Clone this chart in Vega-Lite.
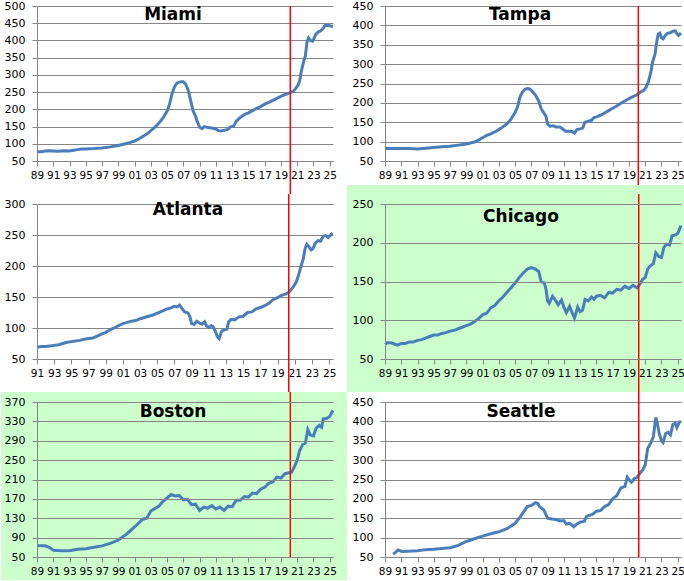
{
  "$schema": "https://vega.github.io/schema/vega-lite/v6.json",
  "padding": 0,
  "background": "white",
  "columns": 2,
  "bounds": "flush",
  "spacing": {"row": 43, "column": 52},
  "datasets": {
    "homes": [
      {"c":"Miami","t":1989.0,"v":77},{"c":"Miami","t":1989.5,"v":77},{"c":"Miami","t":1990.0,"v":79},{"c":"Miami","t":1990.5,"v":80},{"c":"Miami","t":1991.0,"v":79},{"c":"Miami","t":1991.5,"v":78},{"c":"Miami","t":1992.0,"v":79},{"c":"Miami","t":1992.5,"v":80},{"c":"Miami","t":1993.0,"v":79},{"c":"Miami","t":1993.5,"v":81},{"c":"Miami","t":1994.0,"v":83},{"c":"Miami","t":1994.5,"v":85},{"c":"Miami","t":1995.0,"v":85},{"c":"Miami","t":1996.0,"v":86},{"c":"Miami","t":1997.0,"v":88},{"c":"Miami","t":1998.0,"v":91},{"c":"Miami","t":1999.0,"v":95},{"c":"Miami","t":1999.5,"v":98},{"c":"Miami","t":2000.0,"v":101},{"c":"Miami","t":2000.5,"v":104},{"c":"Miami","t":2001.0,"v":108},{"c":"Miami","t":2001.5,"v":114},{"c":"Miami","t":2002.0,"v":121},{"c":"Miami","t":2002.5,"v":128},{"c":"Miami","t":2003.0,"v":138},{"c":"Miami","t":2003.5,"v":148},{"c":"Miami","t":2004.0,"v":160},{"c":"Miami","t":2004.5,"v":175},{"c":"Miami","t":2005.0,"v":195},{"c":"Miami","t":2005.3,"v":215},{"c":"Miami","t":2005.6,"v":245},{"c":"Miami","t":2005.9,"v":265},{"c":"Miami","t":2006.2,"v":276},{"c":"Miami","t":2006.5,"v":279},{"c":"Miami","t":2006.8,"v":280},{"c":"Miami","t":2007.0,"v":280},{"c":"Miami","t":2007.3,"v":272},{"c":"Miami","t":2007.6,"v":255},{"c":"Miami","t":2007.9,"v":225},{"c":"Miami","t":2008.2,"v":195},{"c":"Miami","t":2008.5,"v":180},{"c":"Miami","t":2008.7,"v":165},{"c":"Miami","t":2009.0,"v":148},{"c":"Miami","t":2009.3,"v":144},{"c":"Miami","t":2009.6,"v":150},{"c":"Miami","t":2010.0,"v":147},{"c":"Miami","t":2010.5,"v":146},{"c":"Miami","t":2011.0,"v":143},{"c":"Miami","t":2011.3,"v":138},{"c":"Miami","t":2011.6,"v":137},{"c":"Miami","t":2012.0,"v":139},{"c":"Miami","t":2012.4,"v":141},{"c":"Miami","t":2012.8,"v":149},{"c":"Miami","t":2013.2,"v":152},{"c":"Miami","t":2013.5,"v":165},{"c":"Miami","t":2013.8,"v":172},{"c":"Miami","t":2014.2,"v":180},{"c":"Miami","t":2014.6,"v":186},{"c":"Miami","t":2015.0,"v":190},{"c":"Miami","t":2015.5,"v":196},{"c":"Miami","t":2016.0,"v":203},{"c":"Miami","t":2016.5,"v":208},{"c":"Miami","t":2017.0,"v":215},{"c":"Miami","t":2017.5,"v":220},{"c":"Miami","t":2018.0,"v":226},{"c":"Miami","t":2018.5,"v":232},{"c":"Miami","t":2019.0,"v":238},{"c":"Miami","t":2019.5,"v":243},{"c":"Miami","t":2020.0,"v":247},{"c":"Miami","t":2020.5,"v":252},{"c":"Miami","t":2020.8,"v":260},{"c":"Miami","t":2021.1,"v":270},{"c":"Miami","t":2021.3,"v":283},{"c":"Miami","t":2021.5,"v":310},{"c":"Miami","t":2021.8,"v":340},{"c":"Miami","t":2022.0,"v":355},{"c":"Miami","t":2022.2,"v":395},{"c":"Miami","t":2022.4,"v":407},{"c":"Miami","t":2022.6,"v":400},{"c":"Miami","t":2022.9,"v":398},{"c":"Miami","t":2023.1,"v":408},{"c":"Miami","t":2023.3,"v":418},{"c":"Miami","t":2023.6,"v":425},{"c":"Miami","t":2023.9,"v":428},{"c":"Miami","t":2024.2,"v":435},{"c":"Miami","t":2024.4,"v":443},{"c":"Miami","t":2024.7,"v":444},{"c":"Miami","t":2025.0,"v":443},{"c":"Miami","t":2025.2,"v":441},{"c":"Miami","t":2025.4,"v":442},

      {"c":"Tampa","t":1989.0,"v":82},{"c":"Tampa","t":1990.0,"v":82},{"c":"Tampa","t":1991.0,"v":82},{"c":"Tampa","t":1992.0,"v":82},{"c":"Tampa","t":1993.0,"v":81},{"c":"Tampa","t":1994.0,"v":83},{"c":"Tampa","t":1995.0,"v":85},{"c":"Tampa","t":1996.0,"v":87},{"c":"Tampa","t":1997.0,"v":88},{"c":"Tampa","t":1998.0,"v":91},{"c":"Tampa","t":1999.0,"v":94},{"c":"Tampa","t":2000.0,"v":99},{"c":"Tampa","t":2000.5,"v":104},{"c":"Tampa","t":2001.0,"v":110},{"c":"Tampa","t":2001.5,"v":116},{"c":"Tampa","t":2002.0,"v":120},{"c":"Tampa","t":2002.5,"v":125},{"c":"Tampa","t":2003.0,"v":131},{"c":"Tampa","t":2003.5,"v":138},{"c":"Tampa","t":2004.0,"v":146},{"c":"Tampa","t":2004.5,"v":158},{"c":"Tampa","t":2005.0,"v":175},{"c":"Tampa","t":2005.3,"v":190},{"c":"Tampa","t":2005.6,"v":215},{"c":"Tampa","t":2005.9,"v":228},{"c":"Tampa","t":2006.2,"v":235},{"c":"Tampa","t":2006.5,"v":237},{"c":"Tampa","t":2006.8,"v":236},{"c":"Tampa","t":2007.1,"v":230},{"c":"Tampa","t":2007.5,"v":220},{"c":"Tampa","t":2007.9,"v":205},{"c":"Tampa","t":2008.2,"v":185},{"c":"Tampa","t":2008.5,"v":175},{"c":"Tampa","t":2008.8,"v":165},{"c":"Tampa","t":2009.0,"v":145},{"c":"Tampa","t":2009.3,"v":140},{"c":"Tampa","t":2009.7,"v":141},{"c":"Tampa","t":2010.0,"v":138},{"c":"Tampa","t":2010.5,"v":138},{"c":"Tampa","t":2010.9,"v":132},{"c":"Tampa","t":2011.2,"v":127},{"c":"Tampa","t":2011.6,"v":127},{"c":"Tampa","t":2012.0,"v":126},{"c":"Tampa","t":2012.3,"v":122},{"c":"Tampa","t":2012.6,"v":131},{"c":"Tampa","t":2013.0,"v":133},{"c":"Tampa","t":2013.3,"v":135},{"c":"Tampa","t":2013.6,"v":150},{"c":"Tampa","t":2014.0,"v":153},{"c":"Tampa","t":2014.4,"v":155},{"c":"Tampa","t":2014.7,"v":162},{"c":"Tampa","t":2015.0,"v":164},{"c":"Tampa","t":2015.5,"v":168},{"c":"Tampa","t":2016.0,"v":174},{"c":"Tampa","t":2016.5,"v":180},{"c":"Tampa","t":2017.0,"v":186},{"c":"Tampa","t":2017.5,"v":192},{"c":"Tampa","t":2018.0,"v":199},{"c":"Tampa","t":2018.5,"v":205},{"c":"Tampa","t":2019.0,"v":211},{"c":"Tampa","t":2019.5,"v":216},{"c":"Tampa","t":2020.0,"v":221},{"c":"Tampa","t":2020.4,"v":228},{"c":"Tampa","t":2020.8,"v":232},{"c":"Tampa","t":2021.1,"v":240},{"c":"Tampa","t":2021.4,"v":255},{"c":"Tampa","t":2021.7,"v":280},{"c":"Tampa","t":2021.9,"v":305},{"c":"Tampa","t":2022.2,"v":325},{"c":"Tampa","t":2022.4,"v":355},{"c":"Tampa","t":2022.6,"v":378},{"c":"Tampa","t":2022.8,"v":380},{"c":"Tampa","t":2023.0,"v":368},{"c":"Tampa","t":2023.2,"v":365},{"c":"Tampa","t":2023.5,"v":375},{"c":"Tampa","t":2023.8,"v":380},{"c":"Tampa","t":2024.1,"v":381},{"c":"Tampa","t":2024.4,"v":385},{"c":"Tampa","t":2024.7,"v":386},{"c":"Tampa","t":2024.9,"v":378},{"c":"Tampa","t":2025.1,"v":374},{"c":"Tampa","t":2025.4,"v":380},

      {"c":"Atlanta","t":1991.0,"v":69},{"c":"Atlanta","t":1991.5,"v":70},{"c":"Atlanta","t":1992.0,"v":70},{"c":"Atlanta","t":1992.5,"v":71},{"c":"Atlanta","t":1993.0,"v":72},{"c":"Atlanta","t":1993.5,"v":73},{"c":"Atlanta","t":1994.0,"v":75},{"c":"Atlanta","t":1994.5,"v":77},{"c":"Atlanta","t":1995.0,"v":78},{"c":"Atlanta","t":1995.5,"v":79},{"c":"Atlanta","t":1996.0,"v":80},{"c":"Atlanta","t":1996.5,"v":82},{"c":"Atlanta","t":1997.0,"v":83},{"c":"Atlanta","t":1997.5,"v":84},{"c":"Atlanta","t":1998.0,"v":87},{"c":"Atlanta","t":1998.5,"v":90},{"c":"Atlanta","t":1999.0,"v":93},{"c":"Atlanta","t":1999.5,"v":97},{"c":"Atlanta","t":2000.0,"v":100},{"c":"Atlanta","t":2000.5,"v":104},{"c":"Atlanta","t":2001.0,"v":107},{"c":"Atlanta","t":2001.5,"v":109},{"c":"Atlanta","t":2002.0,"v":111},{"c":"Atlanta","t":2002.5,"v":112},{"c":"Atlanta","t":2003.0,"v":115},{"c":"Atlanta","t":2003.5,"v":117},{"c":"Atlanta","t":2004.0,"v":119},{"c":"Atlanta","t":2004.5,"v":121},{"c":"Atlanta","t":2005.0,"v":124},{"c":"Atlanta","t":2005.5,"v":127},{"c":"Atlanta","t":2006.0,"v":130},{"c":"Atlanta","t":2006.5,"v":132},{"c":"Atlanta","t":2007.0,"v":135},{"c":"Atlanta","t":2007.3,"v":134},{"c":"Atlanta","t":2007.6,"v":137},{"c":"Atlanta","t":2007.9,"v":131},{"c":"Atlanta","t":2008.2,"v":126},{"c":"Atlanta","t":2008.6,"v":124},{"c":"Atlanta","t":2008.8,"v":118},{"c":"Atlanta","t":2009.0,"v":107},{"c":"Atlanta","t":2009.3,"v":106},{"c":"Atlanta","t":2009.6,"v":111},{"c":"Atlanta","t":2009.9,"v":108},{"c":"Atlanta","t":2010.2,"v":106},{"c":"Atlanta","t":2010.5,"v":110},{"c":"Atlanta","t":2010.7,"v":104},{"c":"Atlanta","t":2011.0,"v":101},{"c":"Atlanta","t":2011.3,"v":104},{"c":"Atlanta","t":2011.5,"v":102},{"c":"Atlanta","t":2011.8,"v":93},{"c":"Atlanta","t":2012.0,"v":86},{"c":"Atlanta","t":2012.2,"v":83},{"c":"Atlanta","t":2012.5,"v":95},{"c":"Atlanta","t":2012.8,"v":97},{"c":"Atlanta","t":2013.1,"v":98},{"c":"Atlanta","t":2013.3,"v":110},{"c":"Atlanta","t":2013.6,"v":114},{"c":"Atlanta","t":2014.0,"v":113},{"c":"Atlanta","t":2014.5,"v":118},{"c":"Atlanta","t":2015.0,"v":119},{"c":"Atlanta","t":2015.5,"v":125},{"c":"Atlanta","t":2016.0,"v":126},{"c":"Atlanta","t":2016.5,"v":131},{"c":"Atlanta","t":2017.0,"v":133},{"c":"Atlanta","t":2017.5,"v":136},{"c":"Atlanta","t":2018.0,"v":140},{"c":"Atlanta","t":2018.5,"v":146},{"c":"Atlanta","t":2019.0,"v":149},{"c":"Atlanta","t":2019.5,"v":153},{"c":"Atlanta","t":2020.0,"v":155},{"c":"Atlanta","t":2020.4,"v":159},{"c":"Atlanta","t":2020.8,"v":166},{"c":"Atlanta","t":2021.2,"v":175},{"c":"Atlanta","t":2021.5,"v":188},{"c":"Atlanta","t":2021.8,"v":203},{"c":"Atlanta","t":2022.0,"v":212},{"c":"Atlanta","t":2022.2,"v":228},{"c":"Atlanta","t":2022.4,"v":235},{"c":"Atlanta","t":2022.6,"v":232},{"c":"Atlanta","t":2022.9,"v":226},{"c":"Atlanta","t":2023.1,"v":228},{"c":"Atlanta","t":2023.4,"v":237},{"c":"Atlanta","t":2023.7,"v":241},{"c":"Atlanta","t":2024.0,"v":240},{"c":"Atlanta","t":2024.3,"v":248},{"c":"Atlanta","t":2024.6,"v":249},{"c":"Atlanta","t":2024.9,"v":246},{"c":"Atlanta","t":2025.1,"v":249},{"c":"Atlanta","t":2025.4,"v":253},

      {"c":"Chicago","t":1989.0,"v":69},{"c":"Chicago","t":1989.3,"v":71},{"c":"Chicago","t":1989.7,"v":71},{"c":"Chicago","t":1990.0,"v":70},{"c":"Chicago","t":1990.5,"v":68},{"c":"Chicago","t":1991.0,"v":70},{"c":"Chicago","t":1991.5,"v":70},{"c":"Chicago","t":1992.0,"v":72},{"c":"Chicago","t":1992.5,"v":72},{"c":"Chicago","t":1993.0,"v":74},{"c":"Chicago","t":1993.5,"v":75},{"c":"Chicago","t":1994.0,"v":77},{"c":"Chicago","t":1994.5,"v":79},{"c":"Chicago","t":1995.0,"v":81},{"c":"Chicago","t":1995.5,"v":81},{"c":"Chicago","t":1996.0,"v":83},{"c":"Chicago","t":1996.5,"v":84},{"c":"Chicago","t":1997.0,"v":86},{"c":"Chicago","t":1997.5,"v":87},{"c":"Chicago","t":1998.0,"v":89},{"c":"Chicago","t":1998.5,"v":91},{"c":"Chicago","t":1999.0,"v":93},{"c":"Chicago","t":1999.5,"v":95},{"c":"Chicago","t":2000.0,"v":98},{"c":"Chicago","t":2000.5,"v":102},{"c":"Chicago","t":2001.0,"v":107},{"c":"Chicago","t":2001.5,"v":109},{"c":"Chicago","t":2002.0,"v":116},{"c":"Chicago","t":2002.5,"v":119},{"c":"Chicago","t":2003.0,"v":125},{"c":"Chicago","t":2003.5,"v":130},{"c":"Chicago","t":2004.0,"v":136},{"c":"Chicago","t":2004.5,"v":142},{"c":"Chicago","t":2005.0,"v":148},{"c":"Chicago","t":2005.5,"v":155},{"c":"Chicago","t":2006.0,"v":161},{"c":"Chicago","t":2006.5,"v":166},{"c":"Chicago","t":2007.0,"v":168},{"c":"Chicago","t":2007.5,"v":166},{"c":"Chicago","t":2007.9,"v":163},{"c":"Chicago","t":2008.2,"v":150},{"c":"Chicago","t":2008.6,"v":148},{"c":"Chicago","t":2008.8,"v":140},{"c":"Chicago","t":2009.0,"v":125},{"c":"Chicago","t":2009.2,"v":122},{"c":"Chicago","t":2009.6,"v":131},{"c":"Chicago","t":2010.0,"v":125},{"c":"Chicago","t":2010.3,"v":120},{"c":"Chicago","t":2010.7,"v":126},{"c":"Chicago","t":2011.0,"v":117},{"c":"Chicago","t":2011.3,"v":110},{"c":"Chicago","t":2011.7,"v":118},{"c":"Chicago","t":2012.0,"v":110},{"c":"Chicago","t":2012.3,"v":103},{"c":"Chicago","t":2012.7,"v":117},{"c":"Chicago","t":2013.0,"v":111},{"c":"Chicago","t":2013.3,"v":113},{"c":"Chicago","t":2013.6,"v":127},{"c":"Chicago","t":2014.0,"v":125},{"c":"Chicago","t":2014.4,"v":130},{"c":"Chicago","t":2014.7,"v":127},{"c":"Chicago","t":2015.0,"v":131},{"c":"Chicago","t":2015.5,"v":132},{"c":"Chicago","t":2016.0,"v":129},{"c":"Chicago","t":2016.5,"v":136},{"c":"Chicago","t":2017.0,"v":135},{"c":"Chicago","t":2017.5,"v":140},{"c":"Chicago","t":2018.0,"v":139},{"c":"Chicago","t":2018.5,"v":144},{"c":"Chicago","t":2019.0,"v":141},{"c":"Chicago","t":2019.5,"v":145},{"c":"Chicago","t":2020.0,"v":142},{"c":"Chicago","t":2020.3,"v":146},{"c":"Chicago","t":2020.7,"v":153},{"c":"Chicago","t":2021.0,"v":155},{"c":"Chicago","t":2021.3,"v":166},{"c":"Chicago","t":2021.6,"v":170},{"c":"Chicago","t":2022.0,"v":173},{"c":"Chicago","t":2022.3,"v":187},{"c":"Chicago","t":2022.7,"v":182},{"c":"Chicago","t":2023.0,"v":181},{"c":"Chicago","t":2023.3,"v":194},{"c":"Chicago","t":2023.6,"v":198},{"c":"Chicago","t":2024.0,"v":197},{"c":"Chicago","t":2024.3,"v":209},{"c":"Chicago","t":2024.7,"v":210},{"c":"Chicago","t":2025.0,"v":212},{"c":"Chicago","t":2025.4,"v":222},

      {"c":"Boston","t":1989.0,"v":73},{"c":"Boston","t":1990.0,"v":73},{"c":"Boston","t":1990.5,"v":70},{"c":"Boston","t":1991.0,"v":64},{"c":"Boston","t":1992.0,"v":63},{"c":"Boston","t":1993.0,"v":63},{"c":"Boston","t":1994.0,"v":66},{"c":"Boston","t":1995.0,"v":67},{"c":"Boston","t":1996.0,"v":70},{"c":"Boston","t":1997.0,"v":73},{"c":"Boston","t":1998.0,"v":78},{"c":"Boston","t":1999.0,"v":85},{"c":"Boston","t":2000.0,"v":97},{"c":"Boston","t":2001.0,"v":112},{"c":"Boston","t":2002.0,"v":128},{"c":"Boston","t":2002.5,"v":130},{"c":"Boston","t":2003.0,"v":145},{"c":"Boston","t":2004.0,"v":155},{"c":"Boston","t":2004.5,"v":165},{"c":"Boston","t":2005.0,"v":172},{"c":"Boston","t":2005.5,"v":179},{"c":"Boston","t":2006.0,"v":176},{"c":"Boston","t":2006.5,"v":177},{"c":"Boston","t":2007.0,"v":168},{"c":"Boston","t":2007.5,"v":169},{"c":"Boston","t":2008.0,"v":158},{"c":"Boston","t":2008.5,"v":159},{"c":"Boston","t":2009.0,"v":146},{"c":"Boston","t":2009.5,"v":153},{"c":"Boston","t":2010.0,"v":151},{"c":"Boston","t":2010.5,"v":156},{"c":"Boston","t":2011.0,"v":149},{"c":"Boston","t":2011.5,"v":153},{"c":"Boston","t":2012.0,"v":146},{"c":"Boston","t":2012.5,"v":155},{"c":"Boston","t":2013.0,"v":154},{"c":"Boston","t":2013.5,"v":167},{"c":"Boston","t":2014.0,"v":167},{"c":"Boston","t":2014.5,"v":175},{"c":"Boston","t":2015.0,"v":174},{"c":"Boston","t":2015.5,"v":182},{"c":"Boston","t":2016.0,"v":181},{"c":"Boston","t":2016.5,"v":190},{"c":"Boston","t":2017.0,"v":194},{"c":"Boston","t":2017.5,"v":202},{"c":"Boston","t":2018.0,"v":205},{"c":"Boston","t":2018.5,"v":215},{"c":"Boston","t":2019.0,"v":213},{"c":"Boston","t":2019.5,"v":222},{"c":"Boston","t":2020.0,"v":224},{"c":"Boston","t":2020.3,"v":225},{"c":"Boston","t":2020.7,"v":238},{"c":"Boston","t":2021.0,"v":250},{"c":"Boston","t":2021.3,"v":270},{"c":"Boston","t":2021.7,"v":283},{"c":"Boston","t":2022.0,"v":285},{"c":"Boston","t":2022.3,"v":313},{"c":"Boston","t":2022.6,"v":302},{"c":"Boston","t":2023.0,"v":300},{"c":"Boston","t":2023.3,"v":315},{"c":"Boston","t":2023.7,"v":322},{"c":"Boston","t":2024.0,"v":318},{"c":"Boston","t":2024.2,"v":335},{"c":"Boston","t":2024.6,"v":336},{"c":"Boston","t":2025.0,"v":340},{"c":"Boston","t":2025.4,"v":353},

      {"c":"Seattle","t":1990.0,"v":57},{"c":"Seattle","t":1990.3,"v":62},{"c":"Seattle","t":1990.6,"v":68},{"c":"Seattle","t":1991.0,"v":65},{"c":"Seattle","t":1991.2,"v":64},{"c":"Seattle","t":1993.0,"v":66},{"c":"Seattle","t":1994.0,"v":69},{"c":"Seattle","t":1995.0,"v":70},{"c":"Seattle","t":1996.0,"v":72},{"c":"Seattle","t":1997.0,"v":74},{"c":"Seattle","t":1998.0,"v":80},{"c":"Seattle","t":1999.0,"v":90},{"c":"Seattle","t":2000.0,"v":97},{"c":"Seattle","t":2001.0,"v":104},{"c":"Seattle","t":2002.0,"v":110},{"c":"Seattle","t":2003.0,"v":115},{"c":"Seattle","t":2004.0,"v":123},{"c":"Seattle","t":2005.0,"v":137},{"c":"Seattle","t":2005.5,"v":150},{"c":"Seattle","t":2006.0,"v":165},{"c":"Seattle","t":2006.5,"v":180},{"c":"Seattle","t":2007.0,"v":183},{"c":"Seattle","t":2007.5,"v":190},{"c":"Seattle","t":2007.8,"v":188},{"c":"Seattle","t":2008.0,"v":180},{"c":"Seattle","t":2008.5,"v":172},{"c":"Seattle","t":2009.0,"v":150},{"c":"Seattle","t":2009.5,"v":148},{"c":"Seattle","t":2010.0,"v":147},{"c":"Seattle","t":2010.5,"v":143},{"c":"Seattle","t":2011.0,"v":144},{"c":"Seattle","t":2011.3,"v":135},{"c":"Seattle","t":2011.7,"v":137},{"c":"Seattle","t":2012.0,"v":132},{"c":"Seattle","t":2012.2,"v":128},{"c":"Seattle","t":2012.6,"v":135},{"c":"Seattle","t":2013.0,"v":140},{"c":"Seattle","t":2013.5,"v":142},{"c":"Seattle","t":2013.8,"v":155},{"c":"Seattle","t":2014.0,"v":157},{"c":"Seattle","t":2014.5,"v":160},{"c":"Seattle","t":2015.0,"v":168},{"c":"Seattle","t":2015.5,"v":170},{"c":"Seattle","t":2016.0,"v":180},{"c":"Seattle","t":2016.5,"v":185},{"c":"Seattle","t":2017.0,"v":200},{"c":"Seattle","t":2017.5,"v":208},{"c":"Seattle","t":2018.0,"v":228},{"c":"Seattle","t":2018.5,"v":232},{"c":"Seattle","t":2018.8,"v":256},{"c":"Seattle","t":2019.0,"v":250},{"c":"Seattle","t":2019.3,"v":243},{"c":"Seattle","t":2019.7,"v":253},{"c":"Seattle","t":2020.0,"v":255},{"c":"Seattle","t":2020.3,"v":265},{"c":"Seattle","t":2020.7,"v":275},{"c":"Seattle","t":2021.0,"v":288},{"c":"Seattle","t":2021.3,"v":330},{"c":"Seattle","t":2021.7,"v":345},{"c":"Seattle","t":2022.0,"v":360},{"c":"Seattle","t":2022.3,"v":410},{"c":"Seattle","t":2022.5,"v":395},{"c":"Seattle","t":2022.7,"v":370},{"c":"Seattle","t":2023.0,"v":350},{"c":"Seattle","t":2023.2,"v":345},{"c":"Seattle","t":2023.5,"v":368},{"c":"Seattle","t":2023.8,"v":372},{"c":"Seattle","t":2024.1,"v":365},{"c":"Seattle","t":2024.4,"v":392},{"c":"Seattle","t":2024.7,"v":395},{"c":"Seattle","t":2024.9,"v":384},{"c":"Seattle","t":2025.2,"v":398},{"c":"Seattle","t":2025.4,"v":400}
    ]
  },
  "concat": [
    {
      "width": 296, "height": 155,
      "title": {"text": "Miami", "offset": -24, "dx": -12},
      "layer": [
        {"data": {"name": "homes"}, "transform": [{"filter": "datum.c === 'Miami'"}],
         "mark": {"type": "line", "color": "#4a7ebb", "strokeWidth": 3},
         "encoding": {
           "x": {"field": "t", "type": "quantitative", "title": null, "scale": {"domain": [1989, 2025.4], "nice": false, "zero": false},
                 "axis": {"values": [1989,1991,1993,1995,1997,1999,2001,2003,2005,2007,2009,2011,2013,2015,2017,2019,2021,2023,2025], "labelExpr": "format(datum.value % 100, '02d')"}},
           "y": {"field": "v", "type": "quantitative", "title": null, "scale": {"domain": [50, 500], "nice": false, "zero": false},
                 "axis": {"values": [50,100,150,200,250,300,350,400,450,500]}}
         }},
        {"data": {"values": [{}]}, "mark": {"type": "rule", "color": "#ff0000", "strokeWidth": 1.5},
         "encoding": {"x": {"datum": 2020.15}, "y": {"datum": 500}, "y2": {"datum": -45.8}}}
      ]
    },
    {
      "width": 296, "height": 155,
      "title": {"text": "Tampa", "offset": -24, "dx": -13},
      "layer": [
        {"data": {"name": "homes"}, "transform": [{"filter": "datum.c === 'Tampa'"}],
         "mark": {"type": "line", "color": "#4a7ebb", "strokeWidth": 3},
         "encoding": {
           "x": {"field": "t", "type": "quantitative", "title": null, "scale": {"domain": [1989, 2025.4], "nice": false, "zero": false},
                 "axis": {"values": [1989,1991,1993,1995,1997,1999,2001,2003,2005,2007,2009,2011,2013,2015,2017,2019,2021,2023,2025], "labelExpr": "format(datum.value % 100, '02d')"}},
           "y": {"field": "v", "type": "quantitative", "title": null, "scale": {"domain": [50, 450], "nice": false, "zero": false},
                 "axis": {"values": [50,100,150,200,250,300,350,400,450]}}
         }},
        {"data": {"values": [{}]}, "mark": {"type": "rule", "color": "#ff0000", "strokeWidth": 1.5},
         "encoding": {"x": {"datum": 2020.15}, "y": {"datum": 450}, "y2": {"datum": -35.2}}}
      ]
    },
    {
      "width": 296, "height": 155,
      "title": {"text": "Atlanta", "offset": -26, "dx": 3},
      "layer": [
        {"data": {"name": "homes"}, "transform": [{"filter": "datum.c === 'Atlanta'"}],
         "mark": {"type": "line", "color": "#4a7ebb", "strokeWidth": 3},
         "encoding": {
           "x": {"field": "t", "type": "quantitative", "title": null, "scale": {"domain": [1991, 2025.45], "nice": false, "zero": false},
                 "axis": {"values": [1991,1993,1995,1997,1999,2001,2003,2005,2007,2009,2011,2013,2015,2017,2019,2021,2023,2025], "labelExpr": "format(datum.value % 100, '02d')"}},
           "y": {"field": "v", "type": "quantitative", "title": null, "scale": {"domain": [50, 300], "nice": false, "zero": false},
                 "axis": {"values": [50,100,150,200,250,300]}}
         }},
        {"data": {"values": [{}]}, "mark": {"type": "rule", "color": "#ff0000", "strokeWidth": 1.5},
         "encoding": {"x": {"datum": 2020.3}, "y": {"datum": 316.1}, "y2": {"datum": -3.2}}}
      ]
    },
    {
      "width": 296, "height": 155,
      "title": {"text": "Chicago", "offset": -41, "dx": -12},
      "layer": [
        {"data": {"values": [{}]}, "mark": {"type": "rect", "color": "#ccffcc"},
         "encoding": {"x": {"datum": 1984.33}, "x2": {"datum": 2025.89}, "y": {"datum": 7.4}, "y2": {"datum": 274.5}}},
        {"data": {"name": "homes"}, "transform": [{"filter": "datum.c === 'Chicago'"}],
         "mark": {"type": "line", "color": "#4a7ebb", "strokeWidth": 3},
         "encoding": {
           "x": {"field": "t", "type": "quantitative", "title": null, "scale": {"domain": [1989, 2025.4], "nice": false, "zero": false},
                 "axis": {"zindex": 1, "values": [1989,1991,1993,1995,1997,1999,2001,2003,2005,2007,2009,2011,2013,2015,2017,2019,2021,2023,2025], "labelExpr": "format(datum.value % 100, '02d')"}},
           "y": {"field": "v", "type": "quantitative", "title": null, "scale": {"domain": [50, 250], "nice": false, "zero": false},
                 "axis": {"zindex": 1, "values": [50,100,150,200,250]}}
         }},
        {"data": {"values": [{}]}, "mark": {"type": "rule", "color": "#ff0000", "strokeWidth": 1.5},
         "encoding": {"x": {"datum": 2020.2}, "y": {"datum": 262.9}, "y2": {"datum": 7.4}}}
      ]
    },
    {
      "width": 296, "height": 155,
      "title": {"text": "Boston", "offset": -30, "dx": -12},
      "layer": [
        {"data": {"values": [{}]}, "mark": {"type": "rect", "color": "#ccffcc"},
         "encoding": {"x": {"datum": 1984.57}, "x2": {"datum": 2027.12}, "y": {"datum": 2.5}, "y2": {"datum": 390.6}}},
        {"data": {"name": "homes"}, "transform": [{"filter": "datum.c === 'Boston'"}],
         "mark": {"type": "line", "color": "#4a7ebb", "strokeWidth": 3},
         "encoding": {
           "x": {"field": "t", "type": "quantitative", "title": null, "scale": {"domain": [1989, 2025.4], "nice": false, "zero": false},
                 "axis": {"zindex": 1, "values": [1989,1991,1993,1995,1997,1999,2001,2003,2005,2007,2009,2011,2013,2015,2017,2019,2021,2023,2025], "labelExpr": "format(datum.value % 100, '02d')"}},
           "y": {"field": "v", "type": "quantitative", "title": null, "scale": {"domain": [50, 370], "nice": false, "zero": false},
                 "axis": {"zindex": 1, "values": [50,90,130,170,210,250,290,330,370]}}
         }},
        {"data": {"values": [{}]}, "mark": {"type": "rule", "color": "#ff0000", "strokeWidth": 1.5},
         "encoding": {"x": {"datum": 2020.15}, "y": {"datum": 390.6}, "y2": {"datum": 50}}}
      ]
    },
    {
      "width": 296, "height": 155,
      "title": {"text": "Seattle", "offset": -30, "dx": -12},
      "layer": [
        {"data": {"name": "homes"}, "transform": [{"filter": "datum.c === 'Seattle'"}],
         "mark": {"type": "line", "color": "#4a7ebb", "strokeWidth": 3},
         "encoding": {
           "x": {"field": "t", "type": "quantitative", "title": null, "scale": {"domain": [1989, 2025.4], "nice": false, "zero": false},
                 "axis": {"values": [1989,1991,1993,1995,1997,1999,2001,2003,2005,2007,2009,2011,2013,2015,2017,2019,2021,2023,2025], "labelExpr": "format(datum.value % 100, '02d')"}},
           "y": {"field": "v", "type": "quantitative", "title": null, "scale": {"domain": [50, 450], "nice": false, "zero": false},
                 "axis": {"values": [50,100,150,200,250,300,350,400,450]}}
         }},
        {"data": {"values": [{}]}, "mark": {"type": "rule", "color": "#ff0000", "strokeWidth": 1.5},
         "encoding": {"x": {"datum": 2020.2}, "y": {"datum": 475.8}, "y2": {"datum": 50}}}
      ]
    }
  ],
  "config": {
    "view": {"stroke": null},
    "font": "DejaVu Sans",
    "axis": {"labelFont": "DejaVu Sans", "labelColor": "#000000", "domainColor": "#868686", "tickColor": "#868686", "gridColor": "#868686", "gridWidth": 1, "domainWidth": 1, "tickWidth": 1, "tickSize": 5, "tickCount": 100},
    "axisX": {"grid": false, "labelFontSize": 10.5, "labelPadding": 4, "labelFlush": false, "labelOverlap": false, "labelBound": false},
    "axisY": {"grid": true, "labelFontSize": 11, "labelPadding": 7, "labelOverlap": false},
    "title": {"font": "DejaVu Sans", "fontSize": 17, "fontWeight": "bold", "color": "#000000", "anchor": "middle", "frame": "group"}
  }
}
